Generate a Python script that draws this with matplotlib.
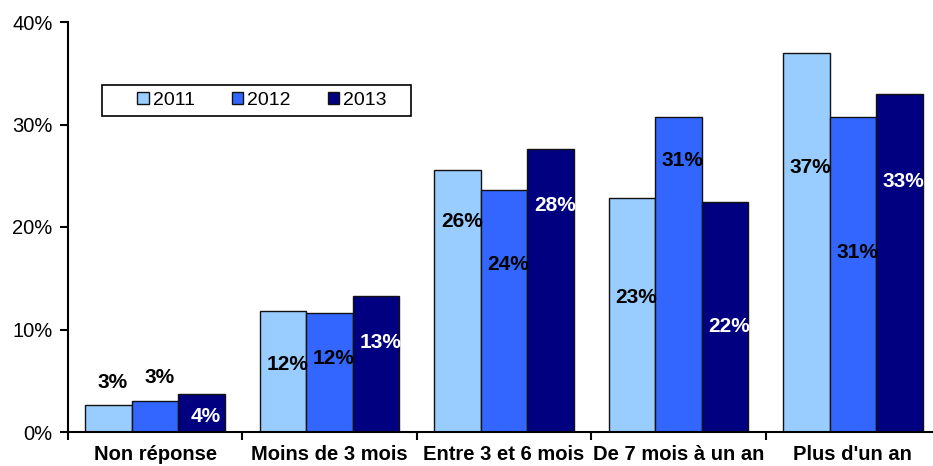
import matplotlib
matplotlib.use("Agg")
import matplotlib.pyplot as plt
from matplotlib.patches import Rectangle
from matplotlib.ticker import FixedLocator, FuncFormatter
import numpy as np

plt.rcParams['font.family'] = ['Liberation Sans', 'DejaVu Sans']

categories = ["Non réponse", "Moins de 3 mois", "Entre 3 et 6 mois",
              "De 7 mois à un an", "Plus d'un an"]
years = ["2011", "2012", "2013"]
values_2011 = [2.6, 11.8, 25.6, 22.8, 37.0]
values_2012 = [3.05, 11.6, 23.6, 30.7, 30.7]
values_2013 = [3.7, 13.3, 27.6, 22.4, 33.0]
# where Excel left each data label (in % units)
label_y_2011 = [4.8, 6.6, 20.5, 13.1, 25.8]
label_y_2012 = [5.3, 7.2, 16.3, 26.5, 17.5]
label_y_2013 = [1.5, 8.7, 22.1, 10.3, 24.4]

colors = ["#99CCFF", "#3366FF", "#000080"]
text_colors = ["black", "black", "white"]

series = [values_2011, values_2012, values_2013]
label_ys = [label_y_2011, label_y_2012, label_y_2013]

fig = plt.figure(figsize=(9.33, 4.66), dpi=100)
ax = fig.add_axes([68 / 933, 34 / 466, 872 / 933, 410 / 466])

x = np.arange(len(categories))
width = 0.8 / 3
for i, (vals, ly) in enumerate(zip(series, label_ys)):
    bars = ax.bar(x + (i - 1) * width, vals, width, color=colors[i],
                  edgecolor="#111111", linewidth=1.0, label=years[i], zorder=2)
    for b, v, yy in zip(bars, vals, ly):
        t = ax.text(b.get_x() + b.get_width() / 2 + 0.025, yy, f"{round(v):.0f}%",
                    ha="center", va="center", fontsize=15, fontweight="bold",
                    color=text_colors[i], zorder=3)
        if text_colors[i] == "white":
            t.set_clip_path(b)

ax.set_xlim(-0.5, len(categories) - 0.5)
ax.set_ylim(0, 40)
ax.set_yticks([0, 10, 20, 30, 40])
ax.yaxis.set_major_formatter(FuncFormatter(lambda v, p: f"{v:.0f}%"))
ax.set_xticks(x)
ax.set_xticklabels(categories, fontsize=14.5, fontweight="bold")
ax.xaxis.set_minor_locator(FixedLocator(np.arange(-0.5, len(categories), 1.0)))
ax.tick_params(axis="x", which="major", length=0, pad=9)
ax.tick_params(axis="x", which="minor", length=6, width=1.5, direction="out")
ax.tick_params(axis="y", length=6, width=1.5, pad=5, labelsize=14.5)

for s in ["top", "right"]:
    ax.spines[s].set_visible(False)
for s in ["left", "bottom"]:
    ax.spines[s].set_linewidth(1.5)

leg = ax.legend(loc="center left", bbox_to_anchor=((137 - 68) / 872, (432 - 100.5) / 410),
                ncol=3, frameon=False, fontsize=14, borderpad=0, borderaxespad=0,
                handlelength=0.6, handleheight=0.6, handletextpad=0.2,
                columnspacing=1.9)
ax.add_patch(Rectangle(((102 - 68) / 872, (432 - 116) / 410), 309 / 872, 31 / 410,
                       transform=ax.transAxes, fill=False, edgecolor="black",
                       linewidth=1.2, clip_on=False, zorder=4))

fig.savefig("out.png", dpi=100)
